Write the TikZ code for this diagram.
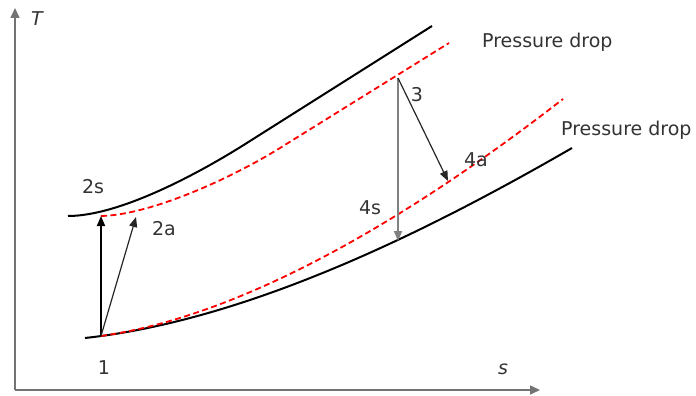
\documentclass[tikz,border=0pt]{standalone}
\usepackage{fontspec}
\setmainfont{DejaVu Sans}
\usetikzlibrary{arrows.meta}
\definecolor{txt}{HTML}{333333}
\tikzset{
  axis/.style={draw=black!55, line width=1.5pt, -{Triangle[length=10pt,width=9pt]}},
  satline/.style={draw=black, line width=2pt},
  realline/.style={draw=red, line width=1.8pt, dash pattern=on 6pt off 3.5pt},
  lbl/.style={text=txt, font=\fontsize{19}{21}\selectfont, inner sep=0pt},
  isen/.style={line width=1.8pt, -{Triangle[length=10pt,width=8pt]}},
  actual/.style={draw=black!85, line width=1.2pt, -{Triangle[length=10pt,width=8pt]}},
}
\begin{document}
\begin{tikzpicture}[x=1pt,y=-1pt]
\useasboundingbox (0,0) rectangle (696,396);
% axes
\coordinate (O) at (15,390);
\coordinate (Ttip) at (15,8);
\coordinate (Stip) at (540,390);
\draw[axis] (O) -- (Ttip);
\draw[axis] (O) -- (Stip);
\node[lbl, font=\fontsize{19}{21}\selectfont\itshape] (Tl) at (37,19) {T};
\node[lbl, font=\fontsize{19}{21}\selectfont\itshape] (sl) at (503,369) {s};
% state points
\coordinate (p1) at (101,336);
\coordinate (p2s) at (101,216);
\coordinate (p2a) at (136,217);
\coordinate (p3) at (398,78);
\coordinate (p4s) at (398,241);
\coordinate (p4a) at (448,181);
% curves
\draw[satline] (68,216) .. controls (120,216) and (200,173) .. (250,141) -- (432,26);
\draw[realline] (p2s) .. controls (150,215) and (230,179) .. (280,148) -- (449,43);
\draw[satline] (85,338) .. controls (250,320) and (430,230) .. (572,148);
\draw[realline] (p1) .. controls (250,315) and (420,210) .. (563,99);
% processes
\draw[isen] (p1) -- (p2s);
\draw[actual] (p1) -- (p2a);
\draw[isen, draw=black!50] (p3) -- (p4s);
\draw[actual] (p3) -- (p4a);
% labels
\node[lbl] (l1) at (104,368) {1};
\node[lbl] (l2s) at (93,187) {2s};
\node[lbl] (l2a) at (164,229) {2a};
\node[lbl] (l3) at (417,95) {3};
\node[lbl] (l4s) at (370,208) {4s};
\node[lbl] (l4a) at (476,160) {4a};
\node[lbl, anchor=west] (pd1) at (482,42) {Pressure drop};
\node[lbl, anchor=west] (pd2) at (561,130) {Pressure drop};
\end{tikzpicture}
\end{document}
